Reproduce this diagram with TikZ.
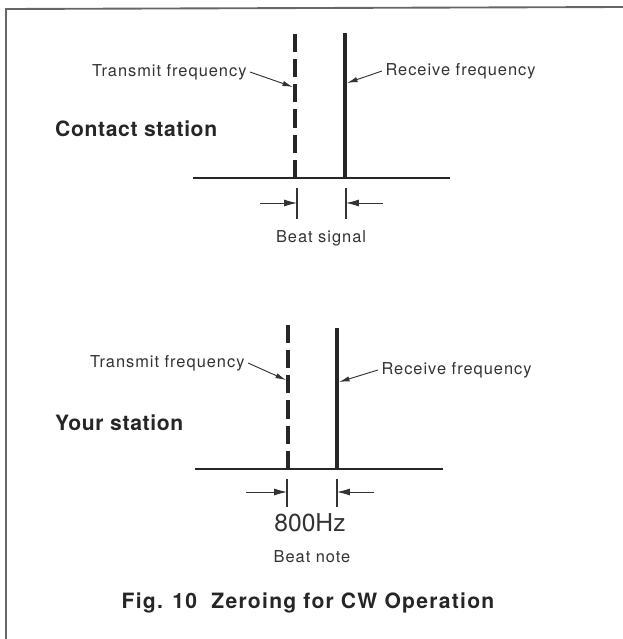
\documentclass[tikz,border=0pt]{standalone}
\usepackage{fontspec}
\setmainfont{TeX Gyre Heros}
\newfontfamily\lblfont[LetterSpace=6]{TeX Gyre Heros}
\newfontfamily\stnfont[LetterSpace=3]{TeX Gyre Heros}
\usetikzlibrary{arrows.meta}

\begin{document}
\begin{tikzpicture}[x=0.03cm, y=-0.03cm,
	lbl/.style={inner sep=0pt, outer sep=3pt, text=black!80, font=\lblfont\fontsize{14}{16}\selectfont},
	stn/.style={inner sep=0pt, anchor=west, text=black!85, font=\stnfont\bfseries\fontsize{18}{20}\selectfont},
	hz/.style={inner sep=0pt, text=black!80, font=\fontsize{21}{24}\selectfont},
	figcap/.style={inner sep=0pt, text=black!85, font=\lblfont\bfseries\fontsize{18}{20}\selectfont},
	rxline/.style={line width=3pt, black!85},
	txline/.style={line width=3pt, black!85, dash pattern=on 15.5pt off 6pt},
	base/.style={line width=1.6pt, black!85},
	tick/.style={line width=1pt, black!80},
	lead/.style={-{Latex[length=9pt, width=4.5pt]}, line width=0.8pt, black!80},
	dimarr/.style={-{Latex[length=11pt, width=6pt]}, line width=0.8pt, black!80},
	frame/.style={line width=1.6pt, black!60}]
	\useasboundingbox (0,0) rectangle (623,639);
	\draw[frame] (6,639) -- (6,9) -- (623,7);

	% contact station
	\node[stn] (cst) at (55,129) {Contact station};
	\coordinate (ctxtop) at (295,34);
	\coordinate (ctxbot) at (295,178);
	\coordinate (crxtop) at (345,33);
	\coordinate (crxbot) at (345,178);
	\draw[txline] (ctxbot) -- (ctxtop);
	\draw[rxline] (crxbot) -- (crxtop);
	\coordinate (cbl) at (193,178);
	\coordinate (cbr) at (450,178);
	\draw[base] (cbl) -- (cbr);
	\node[lbl, anchor=east] (ctx) at (250,72) {Transmit frequency};
	\coordinate (ctxhit) at (293,87);
	\draw[lead] (ctx.east) -- (ctxhit);
	\node[lbl, anchor=west] (crx) at (382,71) {Receive frequency};
	\coordinate (crxhit) at (347,83);
	\draw[lead] (crx.west) -- (crxhit);
	\coordinate (ct1a) at (297,188);
	\coordinate (ct1b) at (297,219);
	\coordinate (ct2a) at (346,188);
	\coordinate (ct2b) at (346,219);
	\draw[tick] (ct1a) -- (ct1b);
	\draw[tick] (ct2a) -- (ct2b);
	\coordinate (cdl) at (260,203);
	\coordinate (cdr) at (383,203);
	\draw[dimarr] (cdl) -- (297,203);
	\draw[dimarr] (cdr) -- (346,203);
	\node[lbl] (cbeat) at (321,238) {Beat signal};

	% your station
	\node[stn] (yst) at (55,423) {Your station};
	\coordinate (ytxtop) at (288,323);
	\coordinate (ytxbot) at (288,469);
	\coordinate (yrxtop) at (337,328);
	\coordinate (yrxbot) at (337,469);
	\draw[txline] (ytxbot) -- (ytxtop);
	\draw[rxline] (yrxbot) -- (yrxtop);
	\coordinate (ybl) at (195,469);
	\coordinate (ybr) at (443,469);
	\draw[base] (ybl) -- (ybr);
	\node[lbl, anchor=east] (ytx) at (248,363) {Transmit frequency};
	\coordinate (ytxhit) at (286,380);
	\draw[lead] (ytx.east) -- (ytxhit);
	\node[lbl, anchor=west] (yrx) at (378,370) {Receive frequency};
	\coordinate (yrxhit) at (339,382);
	\draw[lead] (yrx.west) -- (yrxhit);
	\coordinate (yt1a) at (287,479);
	\coordinate (yt1b) at (287,507);
	\coordinate (yt2a) at (337,479);
	\coordinate (yt2b) at (337,507);
	\draw[tick] (yt1a) -- (yt1b);
	\draw[tick] (yt2a) -- (yt2b);
	\coordinate (ydl) at (246,492);
	\coordinate (ydr) at (374,492);
	\draw[dimarr] (ydl) -- (287,492);
	\draw[dimarr] (ydr) -- (337,492);
	\node[hz] (yhz) at (310,523) {800Hz};
	\node[lbl] (ybeat) at (312,557) {Beat note};

	\node[figcap] (fig) at (308,603) {Fig. 10 \ Zeroing for CW Operation};
\end{tikzpicture}
\end{document}
